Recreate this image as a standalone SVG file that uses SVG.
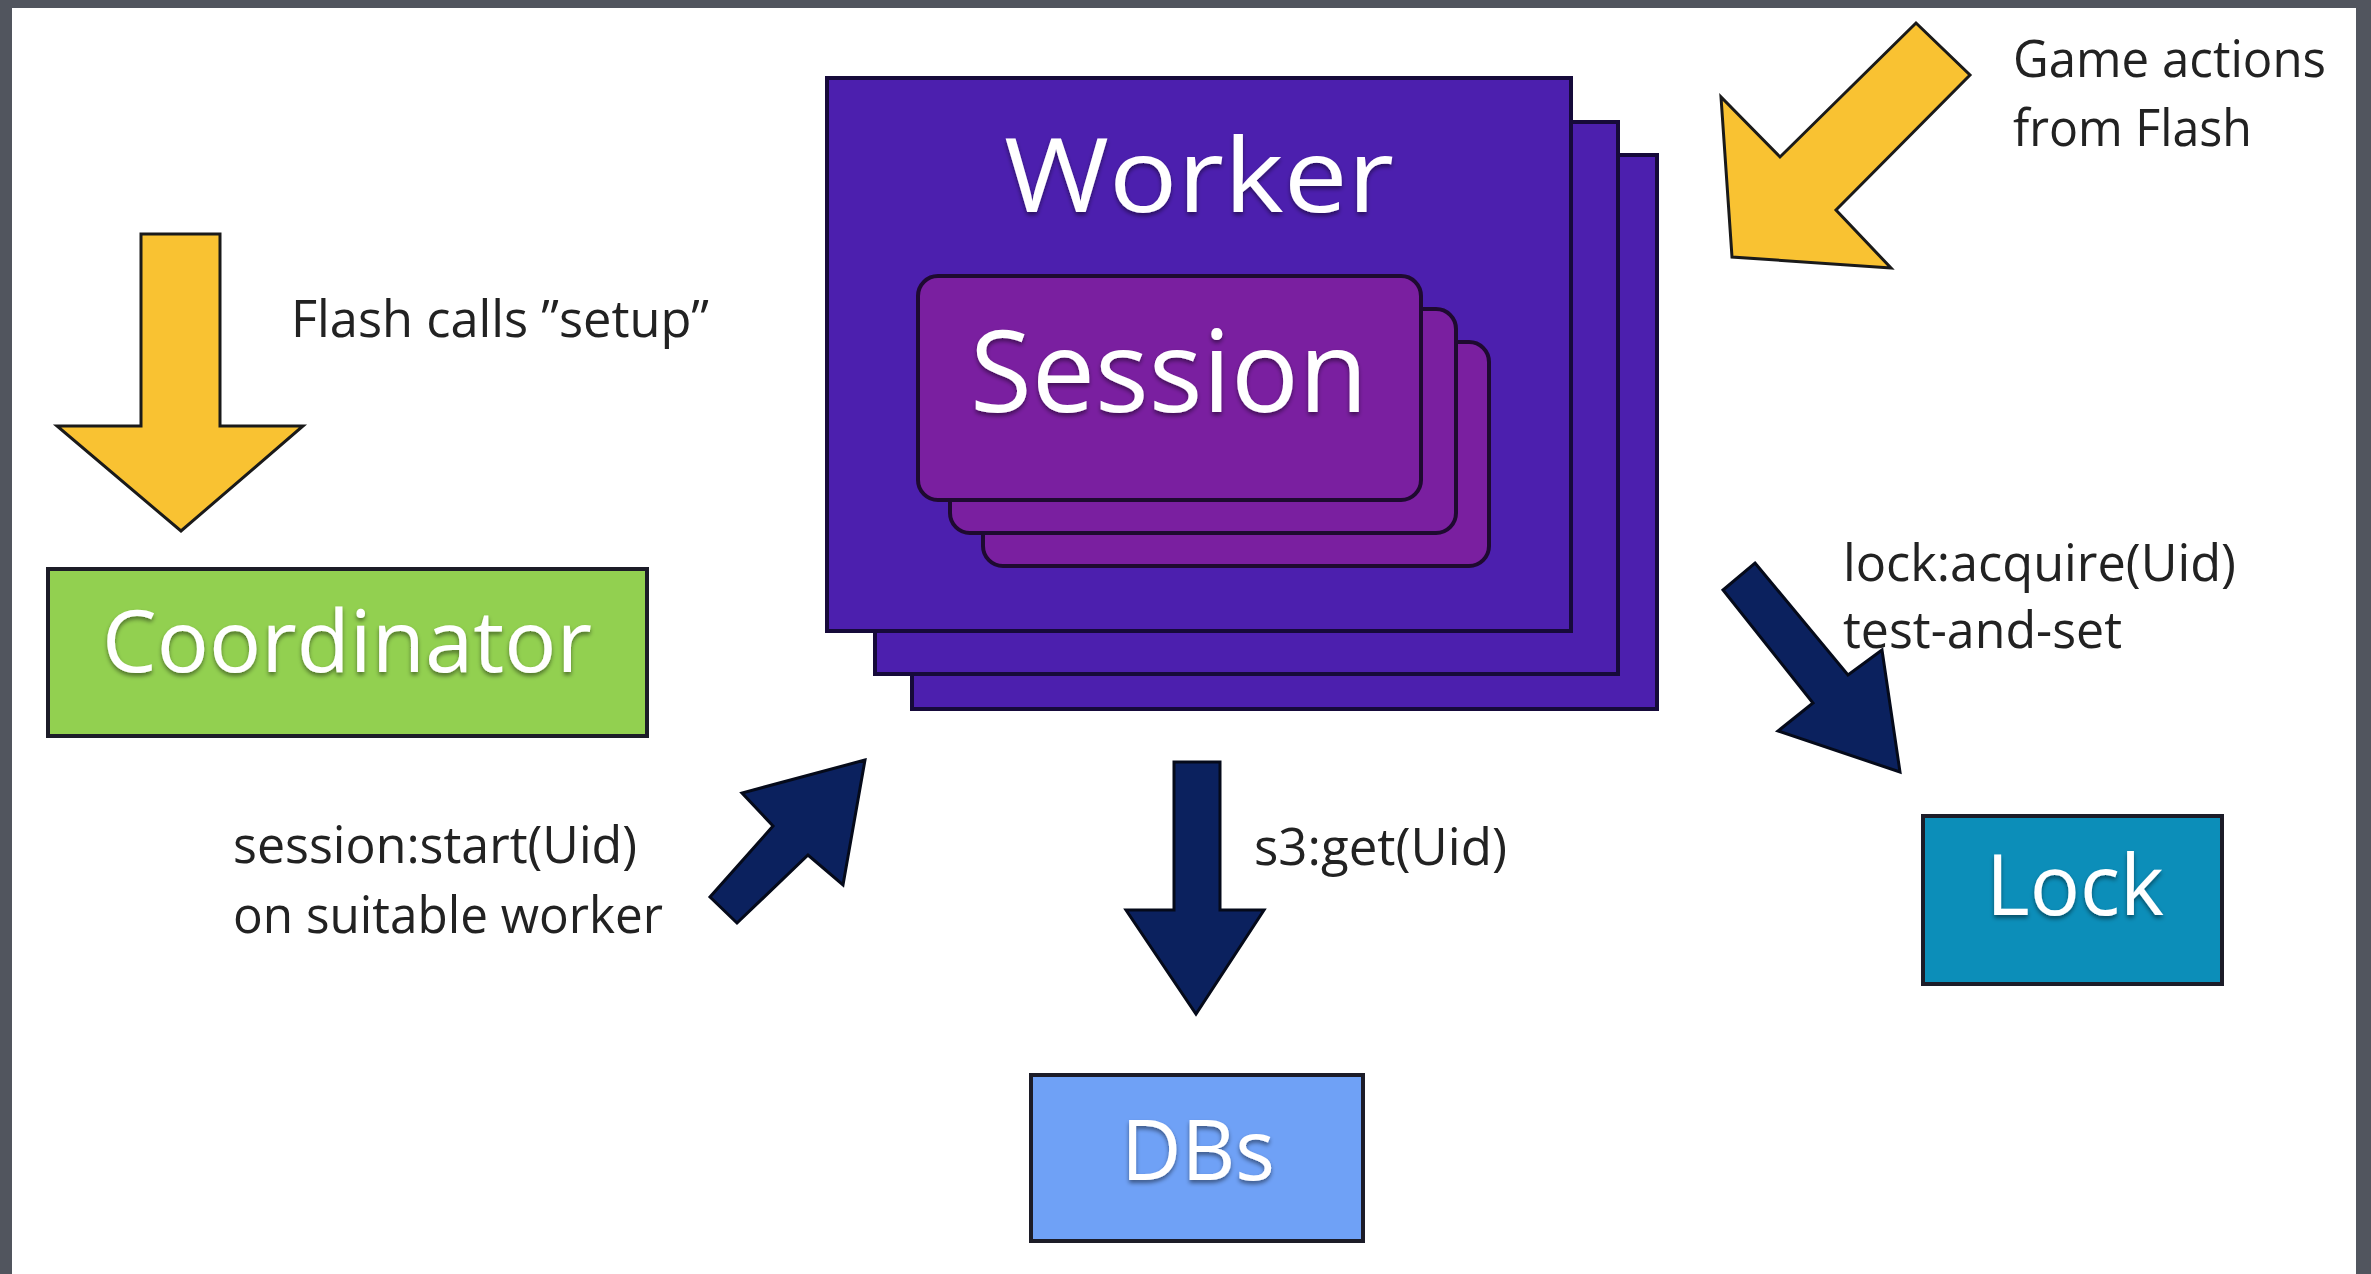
<svg xmlns="http://www.w3.org/2000/svg" width="2371" height="1274" viewBox="0 0 2371 1274">
<defs>
<filter id="sh" x="-10%" y="-20%" width="120%" height="150%">
<feDropShadow dx="0" dy="3" stdDeviation="2" flood-color="#000" flood-opacity="0.45"/>
</filter>
<style>
.frame{fill:#51555e}
.yarrow{fill:#f9c232;stroke:#1a1a1a;stroke-width:3;stroke-linejoin:miter}
.narrow{fill:#0b215e;stroke:#050a1a;stroke-width:3;stroke-linejoin:miter}
.box{stroke:#1c1c28;stroke-width:4}
.worker{fill:#4c1fae;stroke:#160a3a;stroke-width:4}
.session{fill:#7a1fa0;stroke:#1e0a30;stroke-width:4}
.lbl{font-family:"Open Sans","Noto Sans","Liberation Sans",sans-serif;fill:#222;font-size:52px}
.big{font-family:"Open Sans","Noto Sans","Liberation Sans",sans-serif;fill:#fff;filter:url(#sh)}
</style>
</defs>
<rect x="0" y="0" width="2371" height="1274" class="frame"/>
<rect x="12" y="8" width="2344" height="1266" fill="#ffffff"/>

<g id="connectors">
<polygon id="arrow-setup" class="yarrow" points="141,234 220,234 220,426 303,426 181,531 57,426 141,426"/>
<polygon id="arrow-game" class="yarrow" points="1916,23 1970,75 1836,210 1891,268 1732,257 1721,97 1780,157"/>
<polygon id="arrow-start" class="narrow" points="865,760 742,793 773,826 710,897 737,923 808,855 843,885"/>
<polygon id="arrow-s3" class="narrow" points="1174,762 1220,762 1220,910 1264,910 1196,1014 1126,910 1174,910"/>
<polygon id="arrow-lock" class="narrow" points="1755,563 1848,675 1882,650 1900,772 1778,731 1813,703 1723,590"/>
<text class="lbl" x="291" y="337" textLength="418" lengthAdjust="spacingAndGlyphs">Flash calls ”setup”</text>
<text class="lbl" x="2013" y="77" textLength="313" lengthAdjust="spacingAndGlyphs">Game actions</text>
<text class="lbl" x="2013" y="146" textLength="239" lengthAdjust="spacingAndGlyphs">from Flash</text>
<text class="lbl" x="233" y="863" textLength="404" lengthAdjust="spacingAndGlyphs">session:start(Uid)</text>
<text class="lbl" x="233" y="933" textLength="430" lengthAdjust="spacingAndGlyphs">on suitable worker</text>
<text class="lbl" x="1254" y="865" textLength="253" lengthAdjust="spacingAndGlyphs">s3:get(Uid)</text>
<text class="lbl" x="1843" y="581" textLength="393" lengthAdjust="spacingAndGlyphs">lock:acquire(Uid)</text>
<text class="lbl" x="1843" y="648" textLength="279" lengthAdjust="spacingAndGlyphs">test-and-set</text>
</g>

<g id="coordinator">
<rect x="48" y="569" width="599" height="167" fill="#92d050" class="box"/>
<text class="big" x="102" y="672" font-size="86" textLength="490" lengthAdjust="spacingAndGlyphs">Coordinator</text>
</g>

<g id="worker">
<rect x="912" y="155" width="745" height="554" class="worker"/>
<rect x="875" y="122" width="743" height="552" class="worker"/>
<rect x="827" y="78" width="744" height="553" class="worker"/>
<text class="big" x="1004" y="212" font-size="102" textLength="390" lengthAdjust="spacingAndGlyphs">Worker</text>
<g id="session">
<rect x="983" y="342" width="506" height="224" rx="20" class="session"/>
<rect x="950" y="309" width="506" height="224" rx="20" class="session"/>
<rect x="918" y="276" width="503" height="224" rx="20" class="session"/>
<text class="big" x="970" y="412" font-size="114" textLength="398" lengthAdjust="spacingAndGlyphs">Session</text>
</g>
</g>

<g id="dbs">
<rect x="1031" y="1075" width="332" height="166" fill="#6fa1f6" class="box"/>
<text class="big" x="1121" y="1180" font-size="84" textLength="154" lengthAdjust="spacingAndGlyphs">DBs</text>
</g>

<g id="lock">
<rect x="1923" y="816" width="299" height="168" fill="#0c8eb9" class="box"/>
<text class="big" x="1986" y="915" font-size="84" textLength="178" lengthAdjust="spacingAndGlyphs">Lock</text>
</g>
</svg>
